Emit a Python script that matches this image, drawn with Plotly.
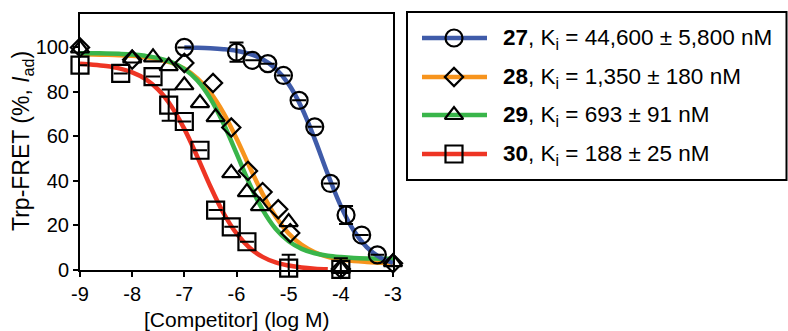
import plotly.graph_objects as go

W, H = 788, 331

# ---------------- data ----------------
# compound 27 (circles)
x27 = [-7.0, -6.0, -5.7, -5.4, -5.1, -4.8, -4.5, -4.2, -3.9, -3.6, -3.3, -3.0]
y27 = [100.0, 97.9, 94.2, 92.7, 87.4, 76.2, 64.3, 38.9, 24.7, 15.7, 6.8, -0.5]
e27 = [0, 4.3, 0, 0, 0, 0, 0, 0, 4.0, 0, 0, 0]
# compound 28 (diamonds)
x28 = [-9.0, -8.0, -7.0, -6.45, -6.1, -5.78, -5.5, -5.2, -4.97, -4.0, -3.0]
y28 = [100.0, 94.5, 93.0, 84.0, 64.0, 44.5, 35.0, 27.3, 16.6, 0.5, 3.0]
# compound 29 (triangles)
x29 = [-9.0, -8.0, -7.6, -7.3, -7.0, -6.7, -6.4, -6.1, -5.8, -5.55, -5.0, -4.0, -3.0]
y29 = [99.5, 95.0, 95.5, 91.6, 83.0, 75.0, 68.7, 43.5, 35.0, 28.7, 21.5, 0.5, 3.5]
# compound 30 (squares)
x30 = [-9.0, -8.22, -7.6, -7.3, -7.0, -6.7, -6.4, -6.1, -5.8, -5.0, -4.0]
y30 = [92.0, 88.3, 86.9, 74.1, 66.7, 53.8, 26.9, 19.4, 12.7, 0.8, 0.3]
e30 = [0, 0, 0, 7.0, 0, 0, 0, 0, 0, 6.0, 5.0]

# fitted curves
cx_full = [-9.0, -8.75, -8.5, -8.25, -8.0, -7.75, -7.5, -7.25, -7.0, -6.75, -6.5, -6.25,
           -6.0, -5.75, -5.5, -5.25, -5.0, -4.75, -4.5, -4.25, -4.0, -3.75, -3.5, -3.25, -3.0]
c28 = [96.9, 96.85, 96.7, 96.5, 96.2, 95.6, 94.7, 93.1, 90.4, 86.1, 79.7, 70.6,
       59.1, 46.4, 34.2, 24.0, 16.4, 11.3, 8.0, 5.9, 4.7, 4.0, 3.6, 3.3, 3.2]
c29 = [97.4, 97.4, 97.3, 97.1, 96.8, 96.2, 95.2, 93.4, 90.3, 85.1, 77.0, 65.8,
       52.4, 38.7, 27.1, 18.5, 12.9, 9.5, 7.5, 6.4, 5.8, 5.4, 5.2, 5.1, 5.1]
cx27 = [-7.0, -6.75, -6.5, -6.25, -6.0, -5.75, -5.5, -5.25, -5.0, -4.75, -4.5, -4.25,
        -4.0, -3.75, -3.5, -3.25, -3.0]
c27 = [99.9, 99.8, 99.6, 99.2, 98.5, 97.1, 94.7, 90.5, 83.5, 72.9, 58.8, 43.1,
       28.7, 17.6, 10.2, 5.7, 3.1]
cx30 = [-9.0, -8.75, -8.5, -8.25, -8.0, -7.75, -7.5, -7.25, -7.0, -6.75, -6.5, -6.25,
        -6.0, -5.75, -5.5, -5.25, -5.0, -4.75, -4.5, -4.25]
c30 = [92.6, 92.2, 91.6, 90.6, 88.8, 85.9, 81.0, 73.6, 63.4, 50.8, 37.5, 25.6,
       16.4, 10.0, 5.9, 3.4, 2.0, 1.1, 0.6, 0.35]

xticks = [-9, -8, -7, -6, -5, -4, -3]
yticks = [0, 20, 40, 60, 80, 100]

names = ["27", "28", "29", "30"]
kis = ["44,600 ± 5,800", "1,350 ± 180", "693 ± 91", "188 ± 25"]

# ---------------- styling ----------------
BLUE, ORANGE, GREEN, RED = "#3F5BA9", "#F7941D", "#39B54A", "#EE3524"
FONT = "Liberation Sans, Arial, sans-serif"
LW = 4.5
MLW = 2.2
sym = {"27": ("circle-open", 17), "28": ("diamond-open", 14),
       "29": ("triangle-up-open", 16), "30": ("square-open", 17)}
col = {"27": BLUE, "28": ORANGE, "29": GREEN, "30": RED}

fig = go.Figure()

curves = [(cx_full, c28, ORANGE), (cx_full, c29, GREEN), (cx27, c27, BLUE), (cx30, c30, RED)]
for cx, cy, c in curves:
    fig.add_trace(go.Scatter(x=cx, y=cy, mode="lines", line=dict(color=c, width=LW, shape="spline"),
                             cliponaxis=False, showlegend=False, hoverinfo="skip"))

def pts(x, y, key, err=None):
    s, sz = sym[key]
    kw = {}
    if err is not None:
        kw["error_y"] = dict(type="data", array=err, visible=True, color="black",
                             thickness=2, width=7)
    fig.add_trace(go.Scatter(x=x, y=y, mode="markers",
                             marker=dict(symbol=s, size=sz, color="black",
                                         line=dict(color="black", width=MLW)),
                             cliponaxis=False, showlegend=False, **kw))

pts(x27, y27, "27", e27)
pts(x28, y28, "28")
pts(x29, y29, "29")
pts(x30, y30, "30", e30)

# ---------------- legend (drawn in pixel space on an overlay axis) ----------------
rows = [38, 77, 115, 154]
lx0, lx1, lmx, tx = 422, 487, 454, 501
for k, ry in zip(names, rows):
    fig.add_trace(go.Scatter(x=[lx0, lx1], y=[ry, ry], mode="lines", xaxis="x2", yaxis="y2",
                             line=dict(color=col[k], width=LW), showlegend=False, hoverinfo="skip"))
    s, sz = sym[k]
    fig.add_trace(go.Scatter(x=[lmx], y=[ry], mode="markers", xaxis="x2", yaxis="y2",
                             marker=dict(symbol=s, size=sz, color="black",
                                         line=dict(color="black", width=MLW)),
                             showlegend=False, hoverinfo="skip"))

annotations = []
for k, ki, ry in zip(names, kis, rows):
    annotations.append(dict(x=tx, y=ry + 1, xref="x2", yref="y2", xanchor="left", yanchor="middle",
                            text=f"<b>{k}</b>, K<sub>i</sub> = {ki} nM", showarrow=False,
                            font=dict(family=FONT, size=22.5, color="black")))

annotations.append(dict(x=22, y=141, xref="x2", yref="y2", textangle=-90, xanchor="center",
                        yanchor="middle", text="Trp-FRET (%, <i>I</i><sub>ad</sub>)", showarrow=False,
                        font=dict(family=FONT, size=23, color="black")))
annotations.append(dict(x=237, y=319, xref="x2", yref="y2", xanchor="center", yanchor="middle",
                        text="[Competitor] (log M)", showarrow=False,
                        font=dict(family=FONT, size=21, color="black")))

shapes = [dict(type="rect", xref="x2", yref="y2", x0=407, x1=786.5, y0=12, y1=180,
               line=dict(color="black", width=2), fillcolor="rgba(0,0,0,0)")]

fig.update_layout(
    width=W, height=H, margin=dict(l=0, r=0, t=0, b=0, autoexpand=False),
    paper_bgcolor="white", plot_bgcolor="rgba(0,0,0,0)",
    font=dict(family=FONT, size=20, color="black"),
    xaxis=dict(domain=[80 / W, 393 / W], range=[-9, -3], tickvals=xticks,
               ticktext=[str(v) for v in xticks], automargin=False,
               ticks="outside", ticklen=5, tickwidth=2, tickcolor="black",
               showline=True, linewidth=2, linecolor="black", mirror=True,
               showgrid=False, zeroline=False, tickfont=dict(size=20)),
    yaxis=dict(domain=[61 / H, 317 / H], range=[0, 115], tickvals=yticks, automargin=False,
               ticks="outside", ticklen=5, tickwidth=2, tickcolor="black",
               showline=True, linewidth=2, linecolor="black", mirror=True,
               showgrid=False, zeroline=False, tickfont=dict(size=20)),
    xaxis2=dict(domain=[0, 1], range=[0, W], visible=False, anchor="y2", automargin=False),
    yaxis2=dict(domain=[0, 1], range=[H, 0], visible=False, anchor="x2", automargin=False),
    annotations=annotations, shapes=shapes,
)

fig.write_html("out.html")
